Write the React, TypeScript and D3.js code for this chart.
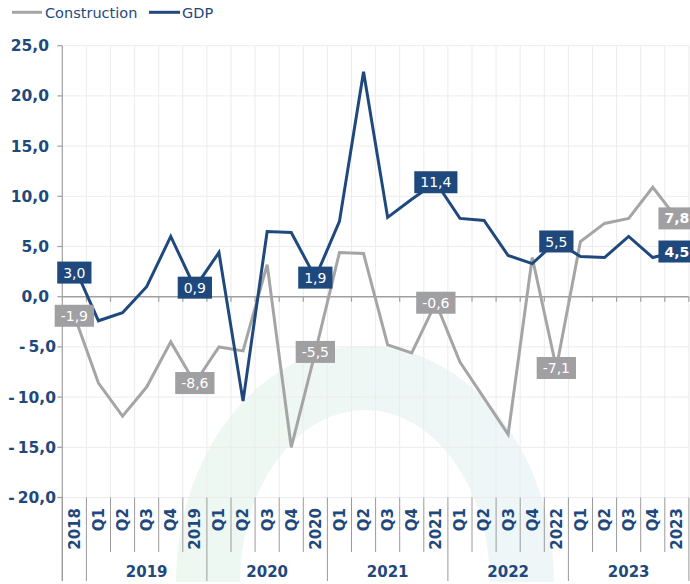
import React from "react";
import * as d3 from "d3";

const categories = ["2018","Q1","Q2","Q3","Q4","2019","Q1","Q2","Q3","Q4","2020","Q1","Q2","Q3","Q4","2021","Q1","Q2","Q3","Q4","2022","Q1","Q2","Q3","Q4","2023"];
const groupYears = ["2019","2020","2021","2022","2023"];
const construction = [-1.9,-8.6,-11.9,-9.0,-4.5,-8.6,-5.0,-5.4,3.2,-15.0,-5.5,4.4,4.3,-4.8,-5.6,-0.6,-6.5,-10.1,-13.7,3.9,-7.1,5.5,7.3,7.8,10.9,7.8];
const gdp = [3.0,-2.4,-1.6,1.0,6.0,0.9,4.4,-10.4,6.5,6.4,1.9,7.5,22.4,7.9,9.7,11.4,7.8,7.6,4.1,3.3,5.5,4.0,3.9,6.0,3.9,4.5];
const yTicks = [-20,-15,-10,-5,0,5,10,15,20,25];
const legendItems = ["Construction","GDP"];

const BLUE = "#1f497d";
const GRAY = "#a5a5a5";
const GRAY_BOX = "#a0a0a2";
const FONT = "DejaVu Sans, Verdana, sans-serif";

const fmt = (v: number) => v.toFixed(1).replace(".", ",");

function textWidth(s: string, size: number, bold: boolean) {
  let w = 0;
  for (const c of s) {
    if (c === ",") w += bold ? 0.38 : 0.318;
    else if (c === "-") w += bold ? 0.415 : 0.361;
    else w += bold ? 0.696 : 0.636;
  }
  return w * size;
}

export default function App() {
  const W = 690, H = 584;
  const left = 62.3, right = 688.9, top = 45.7, bottom = 497.5;
  const x = d3.scaleBand<number>().domain(categories.map((_, i) => i)).range([left, right]);
  const y = d3.scaleLinear().domain([-20, 25]).range([bottom, top]);
  const bw = x.bandwidth();
  const cx = (i: number) => (x(i) as number) + bw / 2;

  const line = d3.line<number>().x((_, i) => cx(i)).y((d) => y(d));

  const annualIdx = categories.map((c, i) => (c.startsWith("Q") ? -1 : i)).filter((i) => i >= 0);
  const boundaries = d3.range(categories.length + 1).map((i) => left + i * bw);
  const groupBoundaryIdx = new Set<number>([0, 1, ...groupYears.map((_, k) => 6 + 5 * k)]);

  const c = [365, 582];
  const o = [189, 236];
  const inn = [125, 172];
  const ring = `M${c[0]-o[0]},${c[1]} A${o[0]},${o[1]} 0 0 1 ${c[0]+o[0]},${c[1]} L${c[0]+inn[0]},${c[1]} A${inn[0]},${inn[1]} 0 0 0 ${c[0]-inn[0]},${c[1]} Z`;

  const labelOffsets: Record<string, number> = { "gdp-0": 6 };

  const renderLabels = (vals: number[], color: string, key: string) =>
    annualIdx.map((i) => {
      const last = i === categories.length - 1;
      const s = fmt(vals[i]);
      const tw = textWidth(s, 14, last);
      const bwid = tw + 12;
      const py = y(vals[i]) + (labelOffsets[`${key}-${i}`] || 0);
      return (
        <g key={`${key}-${i}`}>
          <rect x={cx(i) - bwid / 2} y={py - 11} width={bwid} height={22} fill={color} />
          <text x={cx(i)} y={py} dy="0.36em" textAnchor="middle" fill="#fff" fontSize={14} fontWeight={last ? "bold" : "normal"} fontFamily={FONT}>{s}</text>
        </g>
      );
    });

  return (
    <svg width={W} height={H} style={{ position: "absolute", left: 0, top: 0, background: "#fff" }}>
      <defs>
        <linearGradient id="wm" x1="0" x2="1" y1="0" y2="0">
          <stop offset="0" stopColor="#eef8f1" />
          <stop offset="1" stopColor="#eef6f8" />
        </linearGradient>
      </defs>
      <path d={ring} fill="url(#wm)" />
      {yTicks.map((t) => (
        <line key={`hg${t}`} x1={left} x2={right} y1={y(t)} y2={y(t)} stroke="#ececec" strokeWidth={1} />
      ))}
      {boundaries.slice(1).map((b, i) => (
        <line key={`vg${i}`} x1={b} x2={b} y1={top} y2={bottom} stroke="#ececec" strokeWidth={1} />
      ))}
      <line x1={left} x2={left} y1={top} y2={581} stroke="#a0a0a0" strokeWidth={1.2} />
      {yTicks.map((t) => (
        <g key={`yt${t}`}>
          <line x1={left - 5} x2={left} y1={y(t)} y2={y(t)} stroke="#a0a0a0" strokeWidth={1.2} />
          <text x={t < 0 ? 56 : 49} y={y(t)} dy="0.36em" textAnchor="end" fill={BLUE} fontSize={15.5} fontWeight="bold" fontFamily={FONT}>
            {t < 0 ? (<><tspan>-</tspan><tspan dx={3}>{fmt(-t)}</tspan></>) : fmt(t)}
          </text>
        </g>
      ))}
      <line x1={left} x2={right} y1={y(0)} y2={y(0)} stroke="#a0a0a0" strokeWidth={1.5} />
      {boundaries.slice(1).map((b, i) => (
        <line key={`zt${i}`} x1={b} x2={b} y1={y(0)} y2={y(0) + 5} stroke="#a0a0a0" strokeWidth={1.2} />
      ))}
      {boundaries.map((b, i) => (
        <line key={`xs${i}`} x1={b} x2={b} y1={bottom} y2={groupBoundaryIdx.has(i) || i === categories.length ? 581 : 552} stroke="#9a9a9a" strokeWidth={1} />
      ))}
      {categories.map((cat, i) => (
        <text key={`xl${i}`} transform={`translate(${cx(i)},508) rotate(-90)`} dy="0.36em" textAnchor="end" fill={BLUE} fontSize={15} fontWeight="bold" fontFamily={FONT}>{cat}</text>
      ))}
      {groupYears.map((g, k) => {
        const x0 = boundaries[1 + 5 * k], x1 = boundaries[6 + 5 * k];
        return (
          <text key={`gy${g}`} x={(x0 + x1) / 2} y={572} dy="0.36em" textAnchor="middle" fill={BLUE} fontSize={15} fontWeight="bold" fontFamily={FONT}>{g}</text>
        );
      })}
      <path d={line(construction) || ""} fill="none" stroke={GRAY} strokeWidth={3} strokeLinejoin="miter" />
      <path d={line(gdp) || ""} fill="none" stroke={BLUE} strokeWidth={3} strokeLinejoin="miter" />
      {renderLabels(construction, GRAY_BOX, "con")}
      {renderLabels(gdp, BLUE, "gdp")}
      <line x1={12} x2={42} y1={12.3} y2={12.3} stroke={GRAY} strokeWidth={3} />
      <text x={45} y={12.3} dy="0.36em" fill={BLUE} fontSize={14.5} fontFamily={FONT}>{legendItems[0]}</text>
      <line x1={149} x2={180} y1={12.3} y2={12.3} stroke={BLUE} strokeWidth={3} />
      <text x={182} y={12.3} dy="0.36em" fill={BLUE} fontSize={14.5} fontFamily={FONT}>{legendItems[1]}</text>
    </svg>
  );
}
